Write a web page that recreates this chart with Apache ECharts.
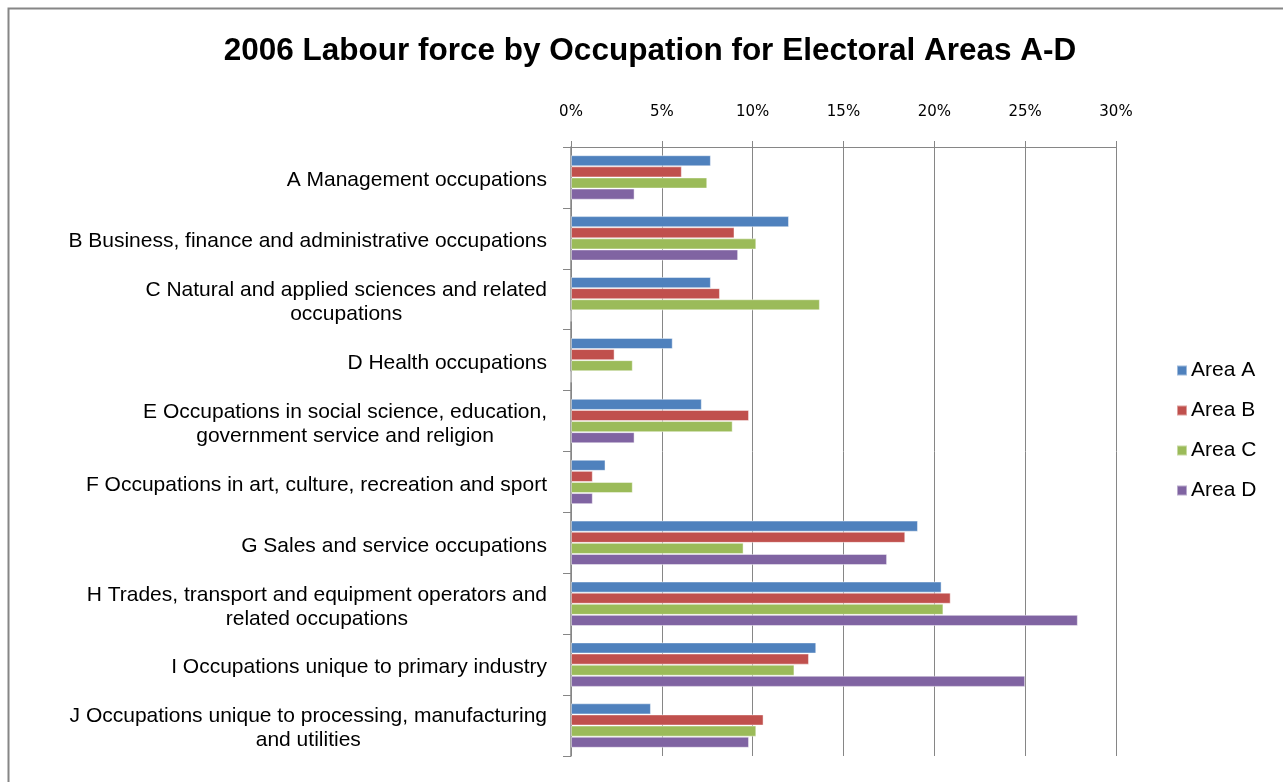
<!DOCTYPE html>
<html>
<head>
<meta charset="utf-8">
<script src="https://cdn.jsdelivr.net/npm/echarts@6/dist/echarts.min.js"></script>
<style>
  html, body { margin: 0; padding: 0; background: #fff; }
  #chart { width: 1283px; height: 782px; }
</style>
</head>
<body>
<div id="chart"></div>
<script>
// Occupation groups (top to bottom)
const categories = [
  'A Management occupations',
  'B Business, finance and administrative occupations',
  'C Natural and applied sciences and related\noccupations',
  'D Health occupations',
  'E Occupations in social science, education,\ngovernment service and religion',
  'F Occupations in art, culture, recreation and sport',
  'G Sales and service occupations',
  'H Trades, transport and equipment operators and\nrelated occupations',
  'I Occupations unique to primary industry',
  'J Occupations unique to processing, manufacturing\nand utilities'
];

// Share of the labour force (%) per electoral area
const areaA = [7.7, 12.0, 7.7, 5.6, 7.2, 1.9, 19.1, 20.4, 13.5, 4.4];
const areaB = [6.1, 9.0, 8.2, 2.4, 9.8, 1.2, 18.4, 20.9, 13.1, 10.6];
const areaC = [7.5, 10.2, 13.7, 3.4, 8.9, 3.4, 9.5, 20.5, 12.3, 10.2];
const areaD = [3.5, 9.2, 0, 0, 3.5, 1.2, 17.4, 27.9, 25.0, 9.8];

const seriesNames = ['Area A', 'Area B', 'Area C', 'Area D'];
const seriesData = [areaA, areaB, areaC, areaD];
const colors = ['#4F81BD', '#C0504D', '#9BBB59', '#8064A2'];

const chart = echarts.init(document.getElementById('chart'));

chart.setOption({
  animation: false,
  backgroundColor: '#ffffff',
  color: colors,
  title: {
    text: '2006 Labour force by Occupation for Electoral Areas A-D',
    left: 645,
    textAlign: 'center',
    top: 30,
    textStyle: {
      fontFamily: 'Liberation Sans',
      fontWeight: 'bold',
      fontSize: 31.5,
      color: '#000'
    }
  },
  graphic: [{
    type: 'rect',
    left: 6,
    top: 6,
    shape: { width: 1300, height: 800 },
    style: { fill: 'none', stroke: '#868686', lineWidth: 2 },
    silent: true
  }],
  legend: {
    orient: 'vertical',
    left: 1171,
    top: 355,
    icon: 'rect',
    itemWidth: 10,
    itemHeight: 10,
    itemGap: 19,
    data: seriesNames,
    textStyle: {
      fontFamily: 'Liberation Sans',
      fontSize: 21,
      lineHeight: 21,
      color: '#000',
      padding: [0, 0, 0, -1]
    }
  },
  grid: {
    left: 571,
    top: 147,
    width: 545,
    height: 609,
    containLabel: false
  },
  xAxis: {
    type: 'value',
    position: 'top',
    min: 0,
    max: 30,
    interval: 5,
    axisLine: { show: true, lineStyle: { color: '#868686', width: 1 } },
    axisTick: { show: true, inside: false, length: 6, lineStyle: { color: '#868686' } },
    splitLine: { show: true, lineStyle: { color: '#868686', width: 1 } },
    axisLabel: {
      formatter: '{value}%',
      margin: 27,
      fontFamily: 'DejaVu Sans',
      fontSize: 15,
      color: '#000'
    }
  },
  yAxis: {
    type: 'category',
    inverse: true,
    data: categories,
    axisLine: { show: true, lineStyle: { color: '#868686', width: 1.5 } },
    axisTick: { show: true, length: 8, lineStyle: { color: '#868686' } },
    axisLabel: {
      margin: 24,
      align: 'right',
      padding: [6, 0, 0, 0],
      color: '#000',
      fontFamily: 'Liberation Sans',
      fontSize: 21,
      lineHeight: 24,
      formatter: function (value) {
        return value.split('\n').map(function (line) { return '{c|' + line + '}'; }).join('\n');
      },
      rich: {
        c: {
          align: 'center',
          fontFamily: 'Liberation Sans',
          fontSize: 21,
          lineHeight: 24,
          color: '#000'
        }
      }
    }
  },
  series: seriesNames.map(function (name, i) {
    return {
      name: name,
      type: 'bar',
      data: seriesData[i],
      barGap: '0%',
      barCategoryGap: '27%',
      itemStyle: {
        color: colors[i],
        borderColor: 'rgba(255,255,255,0.45)',
        borderWidth: 1
      }
    };
  })
});
</script>
</body>
</html>
